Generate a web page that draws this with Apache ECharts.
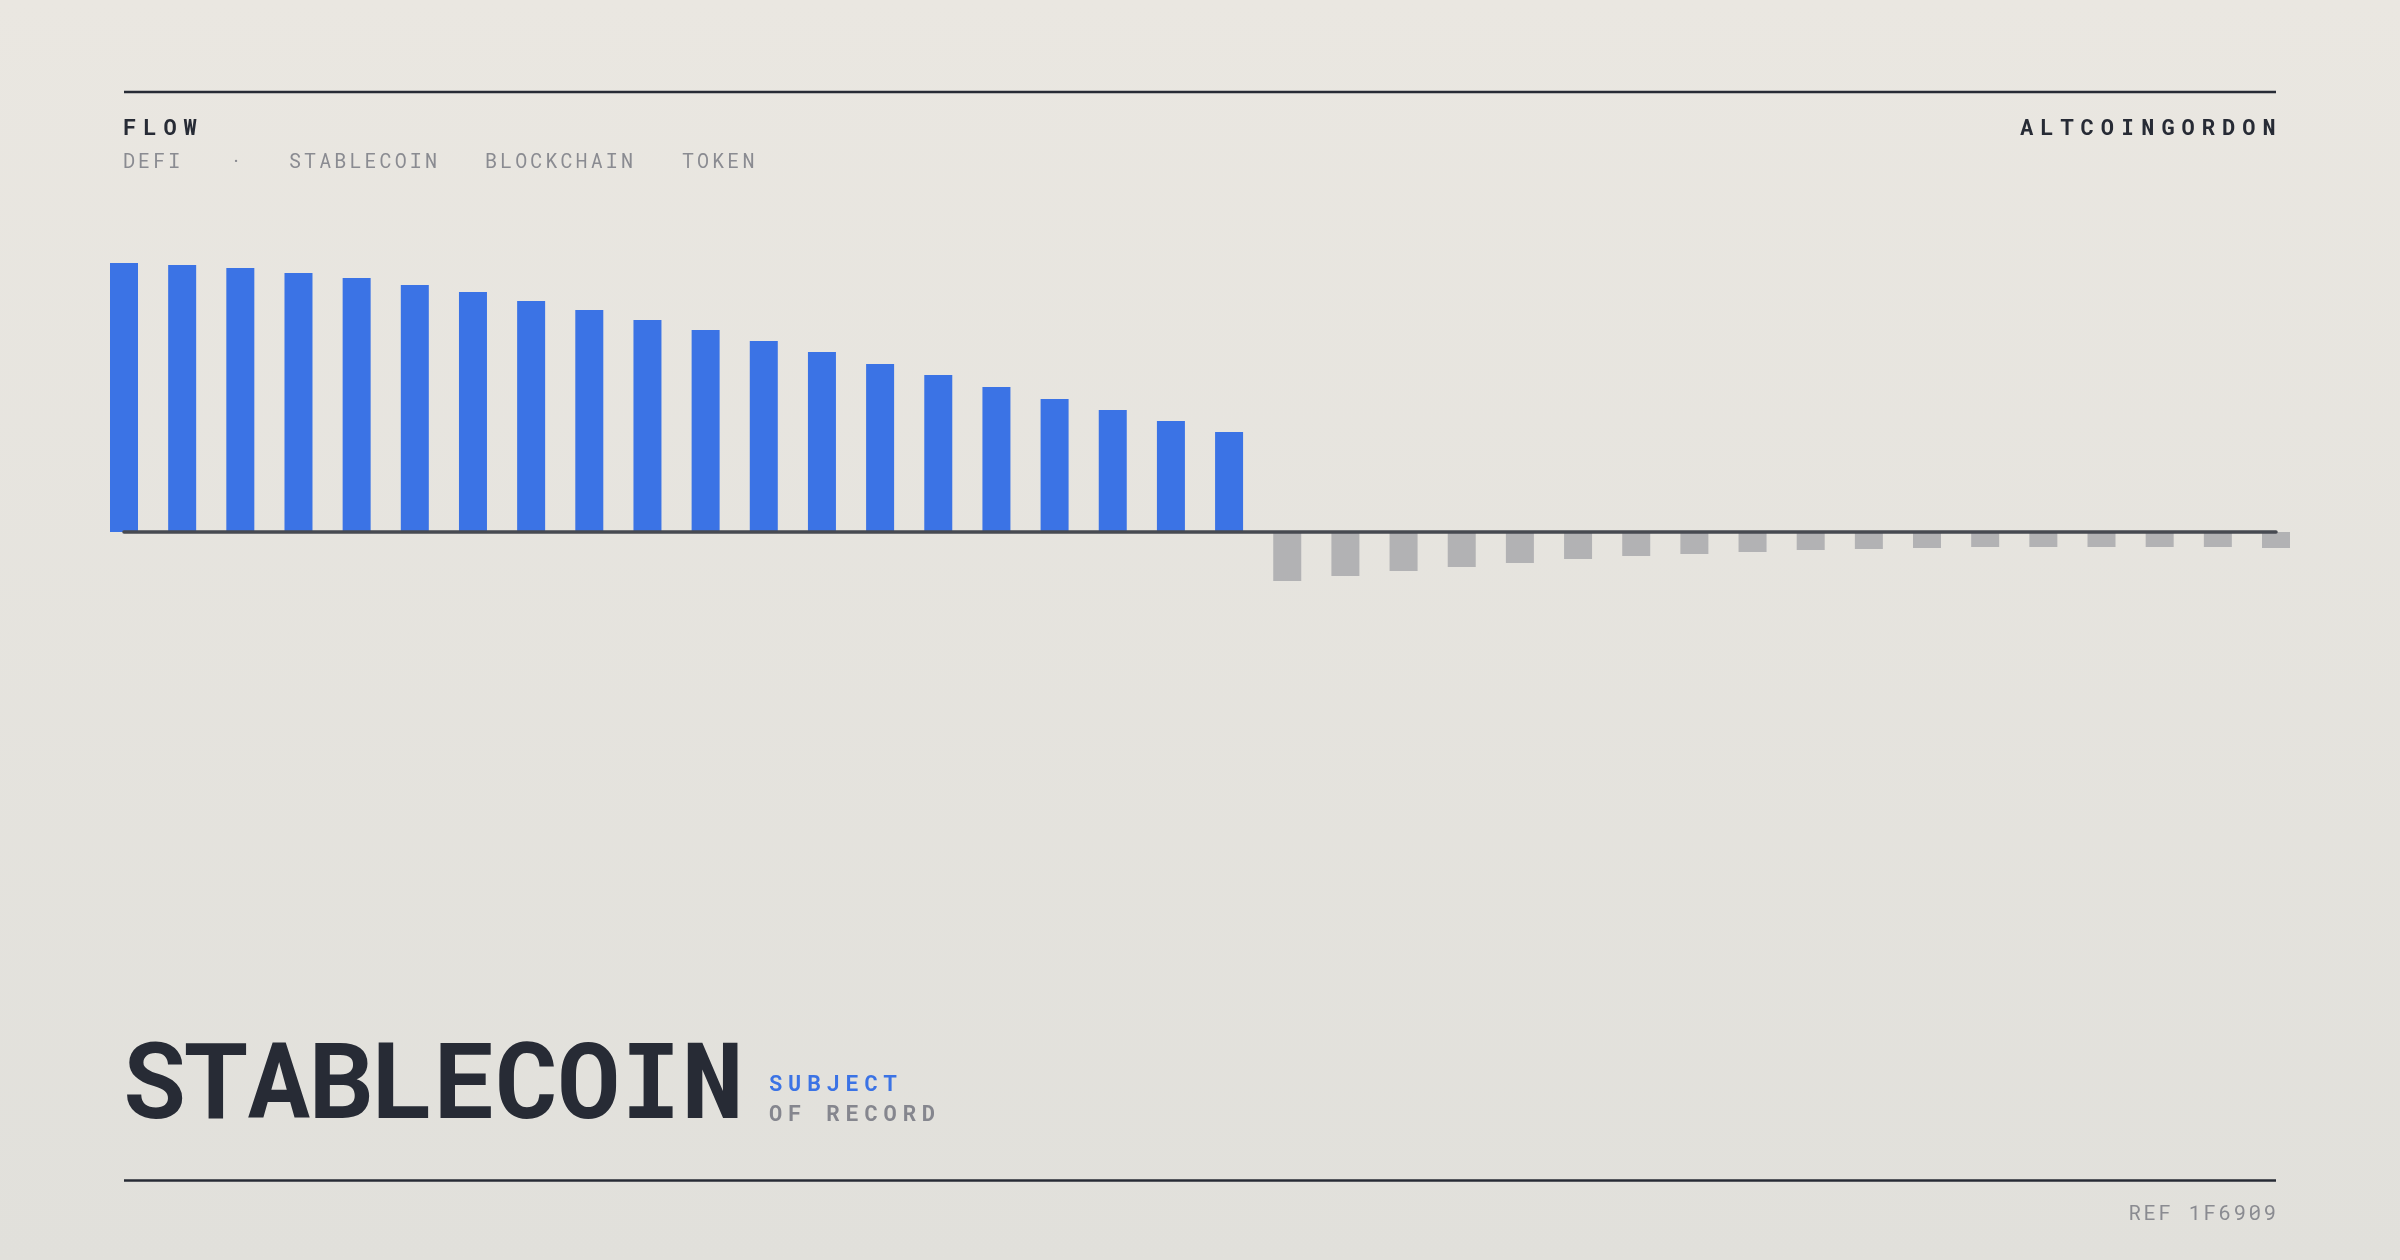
<!DOCTYPE html>
<html>
<head>
<meta charset="utf-8">
<script src="https://cdn.jsdelivr.net/npm/echarts@6/dist/echarts.min.js"></script>
<style>
html,body{margin:0;padding:0;width:2400px;height:1260px;overflow:hidden;background:#e6e4de;}
#chart{width:2400px;height:1260px;}
</style>
</head>
<body>
<div id="chart"></div>
<script>
// ---- data ----
const categories = ['P01','P02','P03','P04','P05','P06','P07','P08','P09','P10',
  'P11','P12','P13','P14','P15','P16','P17','P18','P19','P20',
  'P21','P22','P23','P24','P25','P26','P27','P28','P29','P30',
  'P31','P32','P33','P34','P35','P36','P37','P38'];
const inflow = [269,267,264,259,254,247,240,231,222,212,202,191,180,168,157,145,133,122,111,100,
  '-','-','-','-','-','-','-','-','-','-','-','-','-','-','-','-','-','-'];
const outflow = ['-','-','-','-','-','-','-','-','-','-','-','-','-','-','-','-','-','-','-','-',
  -49,-44,-39,-35,-31,-27,-24,-22,-20,-18,-17,-16,-15,-15,-15,-15,-15,-16];
const headerLeft = 'FLOW';
const headerRight = 'ALTCOINGORDON';
const tags = ['DEFI', '·', 'STABLECOIN', 'BLOCKCHAIN', 'TOKEN'];
const bigTitle = 'STABLECOIN';
const subLine1 = 'SUBJECT';
const subLine2 = 'OF RECORD';
const refText = 'REF 1F6909';

// ---- tracking (letter spacing) keyed by text|font size ----
const SIZE_HEAD = 22, SIZE_TAG = 20, SIZE_BIG = 105, SIZE_SUB = 22, SIZE_REF = 21;
const LETTER_SPACING = {};
LETTER_SPACING[headerLeft + '|' + SIZE_HEAD] = 7.0;
LETTER_SPACING[headerRight + '|' + SIZE_HEAD] = 7.0;
tags.forEach(t => LETTER_SPACING[t + '|' + SIZE_TAG] = 3.1);
LETTER_SPACING[bigTitle + '|' + SIZE_BIG] = -0.9;
LETTER_SPACING[subLine1 + '|' + SIZE_SUB] = 5.9;
LETTER_SPACING[subLine2 + '|' + SIZE_SUB] = 5.9;
LETTER_SPACING[refText + '|' + SIZE_REF] = 2.4;
(function () {
  const proto = CanvasRenderingContext2D.prototype;
  const orig = proto.fillText;
  proto.fillText = function (t, x, y, w) {
    if ('letterSpacing' in this) {
      const m = /(\d+(?:\.\d+)?)px/.exec(this.font || '');
      const ls = m ? LETTER_SPACING[t + '|' + (+m[1])] : 0;
      this.letterSpacing = (ls || 0) + 'px';
    }
    return w === undefined ? orig.call(this, t, x, y) : orig.call(this, t, x, y, w);
  };
})();

const FONT = '"Roboto Mono", "DejaVu Sans Mono", monospace';
const DARK = '#272b35';
const GREY_TEXT = '#8a8b91';
const BLUE = '#3b73e5';
const GREY_BAR = '#b2b2b4';

const tagX = [123, 230, 289, 485, 682];

const chart = echarts.init(document.getElementById('chart'), null, {renderer: 'canvas'});

const graphic = [
  {type: 'line', shape: {x1: 124, y1: 92, x2: 2276, y2: 92}, style: {stroke: DARK, lineWidth: 2.5}, z: 10},
  {type: 'line', shape: {x1: 124, y1: 1180.5, x2: 2276, y2: 1180.5}, style: {stroke: DARK, lineWidth: 2.5}, z: 10},
  {type: 'text', x: 123, y: 129, style: {text: headerLeft, fill: DARK, font: 'bold ' + SIZE_HEAD + 'px ' + FONT, textAlign: 'left', textVerticalAlign: 'middle'}, z: 10},
  {type: 'text', x: 2020, y: 129, style: {text: headerRight, fill: DARK, font: 'bold ' + SIZE_HEAD + 'px ' + FONT, textAlign: 'left', textVerticalAlign: 'middle'}, z: 10},
  {type: 'text', x: 122.5, y: 1087, style: {text: bigTitle, fill: DARK, font: 'bold ' + SIZE_BIG + 'px ' + FONT, textAlign: 'left', textVerticalAlign: 'middle'}, z: 10},
  {type: 'text', x: 769, y: 1084.5, style: {text: subLine1, fill: BLUE, font: 'bold ' + SIZE_SUB + 'px ' + FONT, textAlign: 'left', textVerticalAlign: 'middle'}, z: 10},
  {type: 'text', x: 769, y: 1114.5, style: {text: subLine2, fill: '#85868e', font: 'bold ' + SIZE_SUB + 'px ' + FONT, textAlign: 'left', textVerticalAlign: 'middle'}, z: 10},
  {type: 'text', x: 2128.5, y: 1214, style: {text: refText, fill: GREY_TEXT, font: SIZE_REF + 'px ' + FONT, textAlign: 'left', textVerticalAlign: 'middle'}, z: 10}
];
tags.forEach((t, i) => {
  graphic.push({type: 'text', x: tagX[i], y: 162, style: {text: t, fill: GREY_TEXT, font: SIZE_TAG + 'px ' + FONT, textAlign: 'left', textVerticalAlign: 'middle'}, z: 10});
});

chart.setOption({
  animation: false,
  backgroundColor: {
    type: 'linear', x: 0, y: 0, x2: 0, y2: 1,
    colorStops: [{offset: 0, color: '#eae7e1'}, {offset: 1, color: '#e1e0db'}]
  },
  grid: {left: 124, right: 124, top: 232, height: 600, containLabel: false},
  xAxis: {
    type: 'category',
    data: categories,
    boundaryGap: false,
    z: 5,
    axisLine: {show: true, onZero: true, lineStyle: {color: '#474a51', width: 3.5}},
    axisTick: {show: false},
    axisLabel: {show: false},
    splitLine: {show: false}
  },
  yAxis: {
    type: 'value', min: -300, max: 300, show: false, splitLine: {show: false}
  },
  series: [
    {type: 'bar', name: 'Inflow', stack: 'flow', data: inflow, barWidth: 28, itemStyle: {color: BLUE}},
    {type: 'bar', name: 'Outflow', stack: 'flow', data: outflow, barWidth: 28, itemStyle: {color: GREY_BAR}}
  ],
  graphic: graphic
});
</script>
</body>
</html>
